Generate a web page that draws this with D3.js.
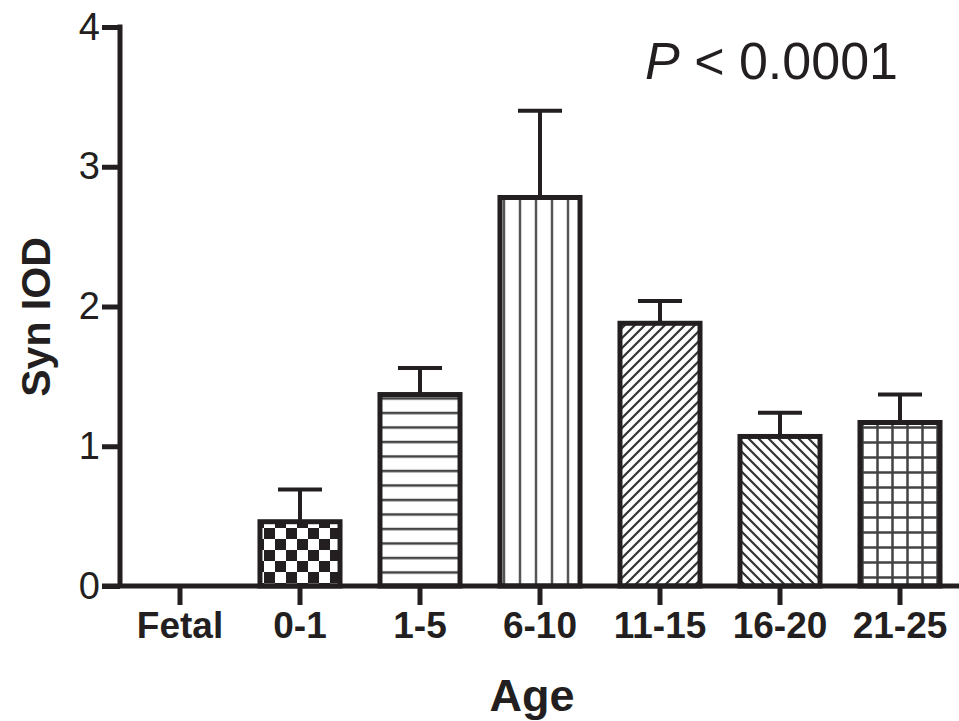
<!DOCTYPE html>
<html>
<head>
<meta charset="utf-8">
<script src="https://cdn.jsdelivr.net/npm/d3@7"></script>
<style>
  body { margin: 0; background: #fff; }
  svg { display: block; font-family: "Liberation Sans", Arial, sans-serif; }
</style>
</head>
<body>
<div id="chart"></div>
<script>
// data
const ages = ['Fetal', '0-1', '1-5', '6-10', '11-15', '16-20', '21-25'];
const means = [0, 0.46, 1.37, 2.78, 1.88, 1.07, 1.17];
const errs = [0, 0.23, 0.19, 0.62, 0.16, 0.17, 0.20];
const patterns = ['none', 'checker', 'hlines', 'vlines', 'diagUp', 'diagDown', 'grid'];
const yTicks = [0, 1, 2, 3, 4];

const width = 959;
const height = 721;
const ink = '#231f20';

const svg = d3.select('#chart')
    .append('svg')
    .attr('width', width)
    .attr('height', height);

const x = d3.scaleBand()
    .domain(ages)
    .range([120, 960])
    .paddingInner(0.333)
    .paddingOuter(0.1665);

const y = d3.scaleLinear()
    .domain([0, 4])
    .range([586, 27]);

// fill patterns
const defs = svg.append('defs');
function pat(id, w, h) {
    return defs.append('pattern')
        .attr('id', id)
        .attr('patternUnits', 'userSpaceOnUse')
        .attr('width', w)
        .attr('height', h);
}
let p = pat('checker', 22, 22);
p.append('rect').attr('width', 22).attr('height', 22).attr('fill', '#fff');
p.append('rect').attr('width', 11).attr('height', 11).attr('fill', ink);
p.append('rect').attr('x', 11).attr('y', 11).attr('width', 11).attr('height', 11).attr('fill', ink);

p = pat('hlines', 10, 14.5);
p.append('rect').attr('width', 10).attr('height', 14.5).attr('fill', '#fff');
p.append('line').attr('x1', 0).attr('x2', 10).attr('y1', 7).attr('y2', 7)
    .attr('stroke', '#444').attr('stroke-width', 2.5);

p = pat('vlines', 16, 10);
p.append('rect').attr('width', 16).attr('height', 10).attr('fill', '#fff');
p.append('line').attr('x1', 8).attr('x2', 8).attr('y1', 0).attr('y2', 10)
    .attr('stroke', '#555').attr('stroke-width', 2.5);

p = pat('diagUp', 10, 10);
p.append('rect').attr('width', 10).attr('height', 10).attr('fill', '#fff');
p.append('path').attr('d', 'M-1,11 L11,-1 M-6,6 L6,-6 M4,16 L16,4')
    .attr('stroke', '#333').attr('stroke-width', 2.2);

p = pat('diagDown', 10, 10);
p.append('rect').attr('width', 10).attr('height', 10).attr('fill', '#fff');
p.append('path').attr('d', 'M-1,-1 L11,11 M-6,4 L6,16 M4,-6 L16,6')
    .attr('stroke', '#333').attr('stroke-width', 2.2);

p = pat('grid', 15, 15);
p.append('rect').attr('width', 15).attr('height', 15).attr('fill', '#fff');
p.append('path').attr('d', 'M7.5,0 V15 M0,7.5 H15')
    .attr('stroke', '#444').attr('stroke-width', 2.5);

// error bars (drawn first so bar outline covers the base)
const capW = 44;
ages.forEach((a, i) => {
    if (errs[i] <= 0) return;
    const cx = x(a) + x.bandwidth() / 2;
    svg.append('line')
        .attr('x1', cx).attr('x2', cx)
        .attr('y1', y(means[i])).attr('y2', y(means[i] + errs[i]))
        .attr('stroke', ink).attr('stroke-width', 4);
    svg.append('line')
        .attr('x1', cx - capW / 2).attr('x2', cx + capW / 2)
        .attr('y1', y(means[i] + errs[i])).attr('y2', y(means[i] + errs[i]))
        .attr('stroke', ink).attr('stroke-width', 4);
});

// bars
svg.selectAll('rect.bar')
    .data(ages.map((a, i) => ({age: a, v: means[i], pat: patterns[i]})).filter(d => d.v > 0))
    .enter().append('rect')
    .attr('class', 'bar')
    .attr('x', d => x(d.age))
    .attr('y', d => y(d.v))
    .attr('width', x.bandwidth())
    .attr('height', d => y(0) - y(d.v))
    .attr('fill', d => `url(#${d.pat})`)
    .attr('stroke', ink)
    .attr('stroke-width', 5);

// y axis
const yAxis = svg.append('g')
    .attr('transform', 'translate(120,0)')
    .call(d3.axisLeft(y).tickValues(yTicks).tickFormat(d3.format('d')).tickSize(18).tickPadding(2));
yAxis.select('.domain').remove();
yAxis.selectAll('.tick line').attr('stroke', ink).attr('stroke-width', 5);
yAxis.selectAll('.tick text')
    .attr('fill', ink)
    .style('font-size', '38px')
    .style('font-family', '"Liberation Sans", Arial, sans-serif');
svg.append('line')
    .attr('x1', 120).attr('x2', 120)
    .attr('y1', y(4) - 2.5).attr('y2', y(0))
    .attr('stroke', ink).attr('stroke-width', 5);

// x axis
const xAxis = svg.append('g')
    .attr('transform', `translate(0,${y(0)})`)
    .call(d3.axisBottom(x).tickSize(19).tickPadding(7));
xAxis.select('.domain').remove();
xAxis.selectAll('.tick line').attr('stroke', ink).attr('stroke-width', 5);
xAxis.selectAll('.tick text')
    .attr('fill', ink)
    .attr('dy', '0.71em')
    .style('font-size', '37px')
    .style('font-weight', 'bold')
    .style('font-family', '"Liberation Sans", Arial, sans-serif');
svg.append('line')
    .attr('x1', 102).attr('x2', width)
    .attr('y1', y(0)).attr('y2', y(0))
    .attr('stroke', ink).attr('stroke-width', 5);

// axis titles
svg.append('text')
    .attr('transform', `translate(50, 317) rotate(-90)`)
    .style('text-anchor', 'middle')
    .style('font-size', '41px')
    .style('font-weight', 'bold')
    .attr('fill', ink)
    .text('Syn IOD');

svg.append('text')
    .attr('x', 532)
    .attr('y', 711)
    .style('text-anchor', 'middle')
    .style('font-size', '45px')
    .style('font-weight', 'bold')
    .attr('fill', ink)
    .text('Age');

// p-value annotation
const ptxt = svg.append('text')
    .attr('x', 645)
    .attr('y', 79)
    .style('font-size', '52px')
    .attr('fill', ink);
ptxt.append('tspan').style('font-style', 'italic').text('P');
ptxt.append('tspan').text(' < 0.0001');
</script>
</body>
</html>
